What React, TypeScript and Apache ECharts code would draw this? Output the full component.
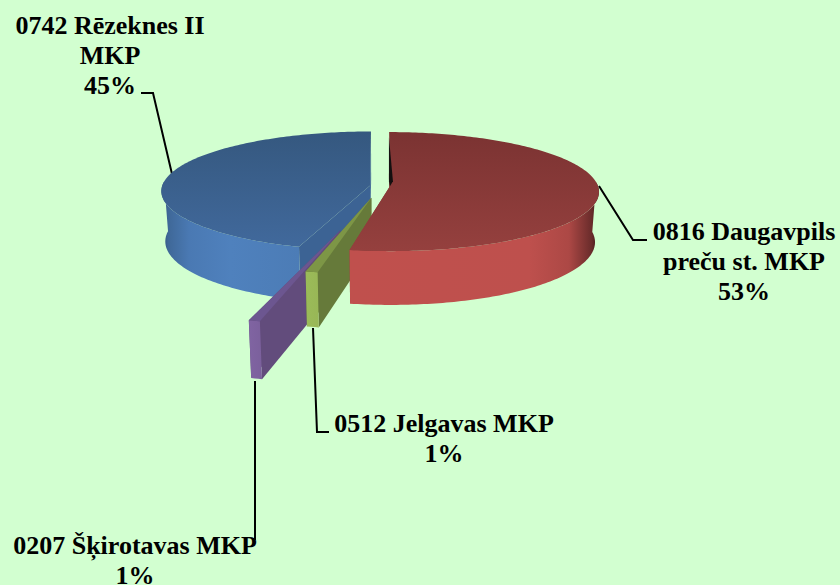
import React, { useEffect, useRef } from "react";
import * as echarts from "echarts";

const categories = [
  "0816 Daugavpils\npreču st. MKP",
  "0512 Jelgavas MKP",
  "0207 Šķirotavas MKP",
  "0742 Rēzeknes II\nMKP",
];
const values = [52.9, 0.75, 0.6, 45];
const percentLabels = ["53%", "1%", "1%", "45%"];

// 3D look of the pie
const CX = 380, CY = 186, R = 208, RY = 59, H = 50, K = 0.09, TAPER = 0.018;
const explode = [0.048, 0.2, 0.73, 0.048];
const stretch = [1, 1.12, 1.23, 1];
const tilt = [0, 1.1, 0.95, 0];
const G = (stops: [number, string][], x2 = 1, y2 = 0) =>
  new echarts.graphic.LinearGradient(0, 0, x2, y2, stops.map(([offset, color]) => ({ offset, color })));
const looks = [
  {
    top: () => G([[0, "#7b3332"], [1, "#95403e"]], 0, 1),
    cut: "#8a3a38",
    side: () => G([[0, "#c0504d"], [0.72, "#be504d"], [0.88, "#ac4845"], [0.97, "#6a2c2b"], [1, "#3c1a19"]]),
  },
  { top: () => "#7d9646", cut: "#667a3a", side: () => G([[0, "#9bbb59"], [1, "#98b756"]]) },
  { top: () => "#6c5690", cut: "#624c7c", side: () => G([[0, "#8064a2"], [1, "#7b609c"]]) },
  {
    top: () => G([[0, "#35587f"], [1, "#41699c"]], 0, 1),
    cut: "#3c6394",
    side: () => G([[0, "#2f5078"], [0.05, "#3f6898"], [0.2, "#4a79b3"], [0.5, "#4f81bd"], [1, "#4c7cb6"]]),
  },
];

// Label lines and text anchors
const leaders: number[][][] = [
  [[599, 186], [633, 240], [647, 240]],
  [[313, 328], [317, 432], [329, 432]],
  [[255, 381], [255, 540]],
  [[172, 174], [153, 93], [141, 93]],
];
const labelAnchors = [
  { x: 744, y: 231 },
  { x: 444, y: 423 },
  { x: 135, y: 545 },
  { x: 110, y: 25 },
];
const LINE = 30;

const spans = (() => {
  let a = 0;
  const unit = 3.6;
  return values.map((v, i) => {
    if (i === values.length - 1) return [360 - v * unit, 360];
    const s = [a, a + v * unit];
    a += v * unit;
    return s;
  });
})();

function project(X: number, Z: number, down: number) {
  const p = 1 / (1 - K * Z);
  const tp = 1 - TAPER * down;
  return [CX + X * R * p * tp, CY + RY * Z * p * tp + down * H * p];
}

function renderSlice(params: any, api: any) {
  const i = api.value(1) as number;
  const [a0, a1] = spans[i];
  const mid = (((a0 + a1) / 2) * Math.PI) / 180;
  const ex = Math.sin(mid) * explode[i];
  const ez = -Math.cos(mid) * explode[i];
  const pt = (deg: number, r: number, down: number) => {
    const t = ((deg + tilt[i]) * Math.PI) / 180;
    return project(Math.sin(t) * r * stretch[i] + ex, -Math.cos(t) * r * stretch[i] + ez, down);
  };
  const n = Math.max(2, Math.ceil(a1 - a0));
  const arcTop: number[][] = [];
  for (let j = 0; j <= n; j++) {
    arcTop.push(pt(a0 + ((a1 - a0) * j) / n, 1, 0));
  }
  const look = looks[i];
  const poly = (points: number[][], fill: any) => ({
    type: "polygon",
    shape: { points },
    style: { fill, stroke: "none" },
    silent: true,
  });
  const cut = (d: number) => poly([pt(d, 0, 0), pt(d, 1, 0), pt(d, 1, 1), pt(d, 0, 1)], look.cut);

  // the side only counts where it faces the viewer
  const from = Math.max(a0, 86);
  const to = Math.min(a1, 274);
  const sTop: number[][] = [];
  const sBot: number[][] = [];
  const m = Math.max(2, Math.ceil(to - from));
  for (let j = 0; j <= m; j++) {
    const d = from + ((to - from) * j) / m;
    sTop.push(pt(d, 1, 0));
    sBot.unshift(pt(d, 1, 1));
  }
  const children: any[] = [
    cut(a1),
    cut(a0),
    poly([...sTop, ...sBot], look.side()),
    poly([pt(a0, 0, 0), ...arcTop], look.top()),
  ];
  if (i === 0) {
    const [ax, ay] = pt(a0, 0, 0);
    children.push(
      poly([[ax - 1, ay - 49], [ax + 3, ay - 5], [ax, ay], [ax - 1, ay - 5]], "#141010")
    );
  }
  return { type: "group", children };
}

export default function App() {
  const ref = useRef<HTMLDivElement>(null);
  useEffect(() => {
    document.body.style.margin = "0";
    const chart = echarts.init(ref.current!, undefined, { renderer: "svg" });
    const order = values.map((_, i) => i).reverse();
    const texts: any[] = [];
    categories.forEach((c, i) => {
      [...c.split("\n"), percentLabels[i]].forEach((line, j) => {
        texts.push({
          type: "text",
          x: labelAnchors[i].x,
          y: labelAnchors[i].y + j * LINE,
          silent: true,
          style: {
            text: line,
            fill: "#000",
            font: 'bold 26px "Liberation Serif", "Times New Roman", serif',
            textAlign: "center",
            textVerticalAlign: "middle",
          },
        });
      });
    });
    const lines = leaders.map((points) => ({
      type: "polyline",
      silent: true,
      shape: { points },
      style: { stroke: "#000", lineWidth: 2, fill: "none" },
    }));
    chart.setOption({
      animation: false,
      backgroundColor: "#d2ffd0",
      graphic: [...lines, ...texts],
      series: [
        {
          type: "custom",
          coordinateSystem: "none",
          renderItem: renderSlice,
          silent: true,
          z: 5,
          data: order.map((i) => [values[i], i]),
        },
      ],
    });
    return () => chart.dispose();
  }, []);
  return <div ref={ref} style={{ position: "absolute", left: 0, top: 0, width: 840, height: 585 }} />;
}
